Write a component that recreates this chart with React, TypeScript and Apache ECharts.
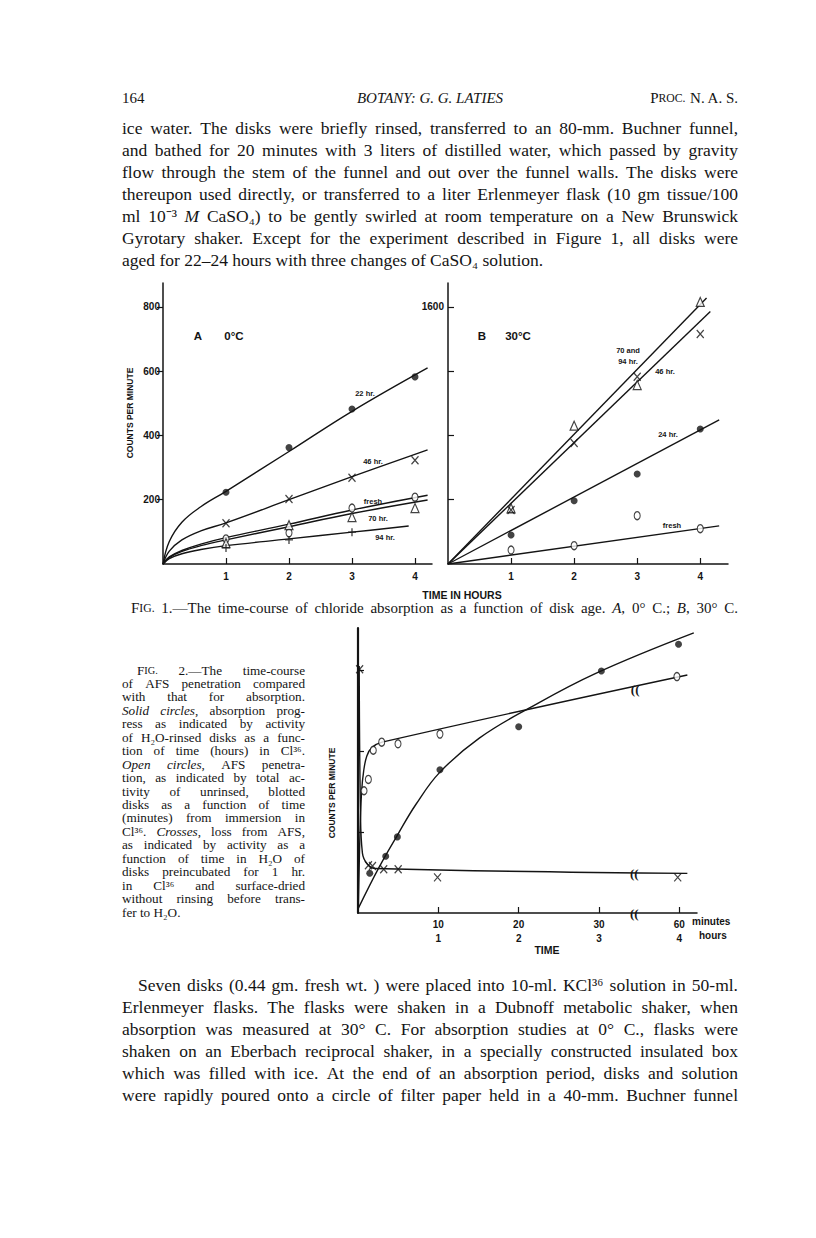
import React, { useEffect, useRef } from "react";
import * as echarts from "echarts";

// ---------------- Figure 1A (0 °C) : counts per minute vs time (hours) ----------------
const hoursA = [1, 2, 3, 4];
const a22Pts = [223, 362, 482, 582];
const a46Pts = [127, 202, 268, 323];
const aFreshPts = [78, 97, 174, 208];
const a70Pts = [65, 121, 146, 174];
const hoursA94 = [1, 2, 3];
const a94Pts = [50, 75, 99];
const a22CurveX = [0, 0.1, 0.3, 0.6, 1, 2, 3, 4.2];
const a22CurveY = [0, 70, 130, 178, 226, 350, 475, 610];
const a46CurveX = [0, 0.1, 0.3, 0.6, 1, 2, 3, 4.2];
const a46CurveY = [0, 40, 75, 103, 128, 200, 272, 355];
const aFreshCurveX = [0, 0.1, 0.3, 0.6, 1, 2, 3, 4.2];
const aFreshCurveY = [0, 22, 42, 62, 82, 124, 168, 214];
const a70CurveX = [0, 0.1, 0.3, 0.6, 1, 2, 3, 4.2];
const a70CurveY = [0, 20, 39, 57, 75, 116, 157, 199];
const a94CurveX = [0, 0.1, 0.3, 0.6, 1, 2, 3, 3.9];
const a94CurveY = [0, 17, 32, 45, 57, 78, 99, 118];
const aYTicks = [200, 400, 600, 800];
const aXTicks = [1, 2, 3, 4];

// ---------------- Figure 1B (30 °C) ----------------
const hoursB = [1, 2, 3, 4];
const b7094Pts = [347, 861, 1114, 1631];
const b46Pts = [336, 753, 1166, 1432];
const b24Pts = [180, 394, 560, 840];
const bFreshPts = [87, 114, 301, 220];
const b7094LineX = [0, 4.1];
const b7094LineY = [0, 1656];
const b46LineX = [0, 4.16];
const b46LineY = [0, 1571];
const b24LineX = [0, 4.3];
const b24LineY = [0, 897];
const bFreshLineX = [0, 4.3];
const bFreshLineY = [0, 237];
const bYTicks = [400, 800, 1200, 1600];
const bYLabels = [1600];
const bXTicks = [1, 2, 3, 4];

// ---------------- Figure 2 (time axis: 10 units = 10 min = 1 hr; 40 shown as 60 min / 4 hr) ----------------
const solidX = [1.46, 3.45, 4.9, 10.2, 20.0, 30.3, 39.9];
const solidY = [0.49, 0.7, 0.94, 1.77, 2.3, 2.99, 3.32];
const solidCurveX = [0.05, 2.6, 4.9, 7.2, 10.2, 15.1, 21.3, 29.6, 41.8];
const solidCurveY = [0.06, 0.56, 0.96, 1.34, 1.74, 2.16, 2.53, 2.96, 3.46];
const openX = [0.75, 1.29, 1.9, 2.95, 4.98, 10.2, 39.7];
const openY = [1.51, 1.65, 2.01, 2.11, 2.09, 2.21, 2.92];
const openCurveX = [0.05, 0.25, 0.45, 0.7, 1.1, 1.7, 3.0, 41];
const openCurveY = [0.1, 1.0, 1.5, 1.75, 1.94, 2.04, 2.11, 2.94];
const crossX = [0.2, 1.3, 1.8, 3.2, 5.0, 9.9, 39.8];
const crossY = [3.01, 0.59, 0.58, 0.54, 0.54, 0.44, 0.44];
const crossCurveX = [0.15, 0.3, 0.55, 1.2, 2.2, 41];
const crossCurveY = [3.05, 1.3, 0.74, 0.6, 0.55, 0.49];
const f2XTicks = [10, 20, 30, 40];
const f2XLabels = ["10\n1", "20\n2", "30\n3", "60\n4"];
const f2YTicks = [1, 2, 3];

// ---------------- Page text ----------------
const headerLeft = "164";
const headerCenter = "BOTANY: G. G. LATIES";
const para1 = [
  "ice water.  The disks were briefly rinsed, transferred to an 80-mm. Buchner funnel,",
  "and bathed for 20 minutes with 3 liters of distilled water, which passed by gravity",
  "flow through the stem of the funnel and out over the funnel walls.  The disks were",
  "thereupon used directly, or transferred to a liter Erlenmeyer flask (10 gm tissue/100",
  "ml 10⁻³ _M_ CaSO₄) to be gently swirled at room temperature on a New Brunswick",
  "Gyrotary shaker.  Except for the experiment described in Figure 1, all disks were",
  "aged for 22–24 hours with three changes of CaSO₄ solution.",
];
const fig1Caption =
  "F^IG.^ 1.—The time-course of chloride absorption as a function of disk age.  _A_, 0° C.; _B_, 30° C.";
const fig2Caption = [
  "F^IG.^ 2.—The time-course",
  "of AFS penetration compared",
  "with that for absorption.",
  "_Solid_ _circles_, absorption prog-",
  "ress as indicated by activity",
  "of H₂O-rinsed disks as a func-",
  "tion of time (hours) in Cl³⁶.",
  "_Open_ _circles_, AFS penetra-",
  "tion, as indicated by total ac-",
  "tivity of unrinsed, blotted",
  "disks as a function of time",
  "(minutes) from immersion in",
  "Cl³⁶.  _Crosses_, loss from AFS,",
  "as indicated by activity as a",
  "function of time in H₂O of",
  "disks preincubated for 1 hr.",
  "in Cl³⁶ and surface-dried",
  "without rinsing before trans-",
  "fer to H₂O.",
];
const para2 = [
  "Seven disks (0.44 gm. fresh wt. ) were placed into 10-ml. KCl³⁶ solution in 50-ml.",
  "Erlenmeyer flasks.  The flasks were shaken in a Dubnoff metabolic shaker, when",
  "absorption was measured at 30° C.  For absorption studies at 0° C., flasks were",
  "shaken on an Eberbach reciprocal shaker, in a specially constructed insulated box",
  "which was filled with ice.  At the end of an absorption period, disks and solution",
  "were rapidly poured onto a circle of filter paper held in a 40-mm. Buchner funnel",
];

const INK = "#141414";
const SERIF = '"Liberation Serif", "Times New Roman", serif';
const SANS = '"Liberation Sans", Arial, sans-serif';

// ---------- text helpers ----------
let mctx: CanvasRenderingContext2D | null = null;
function measure(text: string, size: number, italic: boolean, fam: string) {
  if (!mctx) mctx = document.createElement("canvas").getContext("2d");
  mctx!.font = `${italic ? "italic " : ""}${size}px ${fam}`;
  return mctx!.measureText(text).width;
}
type Seg = { t: string; k: "n" | "i" | "s" };
function parseWord(w: string): Seg[] {
  return w
    .split(/(_[^_]+_|\^[^^]+\^)/)
    .filter((p) => p.length)
    .map((p) =>
      p[0] === "_" && p.length > 2 && p.endsWith("_")
        ? { t: p.slice(1, -1), k: "i" as const }
        : p[0] === "^" && p.length > 2 && p.endsWith("^")
        ? { t: p.slice(1, -1), k: "s" as const }
        : { t: p, k: "n" as const }
    );
}
const segW = (s: Seg, size: number, fam: string) =>
  s.k === "s" ? measure(s.t, size * 0.78, false, fam) : measure(s.t, size, s.k === "i", fam);
const wordW = (w: Seg[], size: number, fam: string) => w.reduce((a, s) => a + segW(s, size, fam), 0);
const richOf = (w: Seg[]) => w.map((s) => (s.k === "n" ? s.t : `{${s.k}|${s.t}}`)).join("");
const richStyles = (size: number, fam: string) => ({
  i: { fontStyle: "italic", fontSize: size, fontFamily: fam, fill: INK },
  s: { fontSize: size * 0.78, fontFamily: fam, fill: INK },
});
function naturalWidth(line: string, size: number, fam: string) {
  const words = line.split(" ").filter(Boolean).map(parseWord);
  const sp = measure(" ", size, false, fam);
  return words.reduce((a, w) => a + wordW(w, size, fam), 0) + sp * (words.length - 1);
}
function textLine(out: any[], line: string, x0: number, x1: number, y: number, size: number, justify: boolean, fam: string) {
  const words = line.split(" ").filter(Boolean).map(parseWord);
  const widths = words.map((w) => wordW(w, size, fam));
  const total = widths.reduce((a, b) => a + b, 0);
  const sp = measure(" ", size, false, fam);
  const gap = justify && words.length > 1 ? (x1 - x0 - total) / (words.length - 1) : sp;
  let x = x0;
  words.forEach((w, i) => {
    out.push({
      type: "text",
      x,
      y,
      silent: true,
      style: {
        text: richOf(w),
        fontSize: size,
        fontFamily: fam,
        fill: INK,
        textAlign: "left",
        textVerticalAlign: "middle",
        rich: richStyles(size, fam),
      },
    });
    x += widths[i] + gap;
  });
}
function fitSize(lines: string[], width: number, base: number, lo: number, hi: number, fam: string) {
  const maxW = Math.max(...lines.map((l) => naturalWidth(l, base, fam)));
  return Math.max(lo, Math.min(hi, (base * width * 0.985) / maxW));
}

// ---------- chart helpers ----------
const pairs = (xs: number[], ys: number[]) => xs.map((x, i) => [x, ys[i]]);
const curve = (name: string, xs: number[], ys: number[], idx: number, smooth = true) => ({
  type: "line",
  name,
  xAxisIndex: idx,
  yAxisIndex: idx,
  data: pairs(xs, ys),
  smooth: smooth ? 0.4 : false,
  showSymbol: false,
  symbol: "none",
  lineStyle: { color: INK, width: 1.4 },
  silent: true,
  z: 2,
});
const FILLED = { symbol: "circle", symbolSize: 7, itemStyle: { color: INK } };
const OPEN = { symbol: "circle", symbolSize: [6, 8], itemStyle: { color: "#fff", borderColor: INK, borderWidth: 1.2 } };
const CROSS = {
  symbol: "path://M0,0L10,12M10,0L0,12",
  symbolSize: [7, 8],
  itemStyle: { color: "none", borderColor: INK, borderWidth: 1.3 },
};
const TRI = { symbol: "triangle", symbolSize: [8, 9], itemStyle: { color: "#fff", borderColor: INK, borderWidth: 1.2 } };
const PLUS = {
  symbol: "path://M5,0L5,10M0,5L10,5",
  symbolSize: 8,
  itemStyle: { color: "none", borderColor: INK, borderWidth: 1.3 },
};
const pts = (name: string, xs: number[], ys: number[], idx: number, sym: any) => ({
  type: "scatter",
  name,
  xAxisIndex: idx,
  yAxisIndex: idx,
  data: pairs(xs, ys),
  ...sym,
  silent: true,
  z: 3,
});

const labelStyle = { color: INK, fontFamily: SANS, fontWeight: "bold", fontSize: 10 };
const baseAxis = (grid: number, min: number, max: number, interval: number, ticks: number[], labels: number[] | null, inside: boolean, margin: number, lineW = 1.5) => ({
  type: "value",
  gridIndex: grid,
  min,
  max,
  interval,
  splitLine: { show: false },
  axisLine: { show: true, onZero: false, lineStyle: { color: INK, width: lineW } },
  axisTick: { show: true, inside, length: 6, customValues: ticks, lineStyle: { color: INK, width: 1.2 } },
  axisLabel: labels
    ? { ...labelStyle, margin, customValues: labels, formatter: (v: number) => String(v) }
    : { show: false },
});

function buildOption() {
  return {
    animation: false,
    backgroundColor: "#ffffff",
    grid: [
      { left: 163, top: 283, width: 269, height: 281 },
      { left: 448, top: 283, width: 280, height: 281 },
      { left: 358, top: 628, width: 339, height: 285 },
    ],
    xAxis: [
      baseAxis(0, 0, 4.27, 1, aXTicks, aXTicks, true, 7),
      baseAxis(1, 0, 4.44, 1, bXTicks, bXTicks, true, 7),
      {
        ...baseAxis(2, 0, 42.2, 10, f2XTicks, f2XTicks, true, 4),
        axisLabel: {
          ...labelStyle,
          margin: 4,
          lineHeight: 14,
          customValues: f2XTicks,
          formatter: (v: number) => f2XLabels[f2XTicks.indexOf(v)] ?? "",
        },
      },
    ],
    yAxis: [
      baseAxis(0, 0, 874, 200, aYTicks, aYTicks, false, 3),
      baseAxis(1, 0, 1749, 400, bYTicks, bYLabels, true, 4),
      baseAxis(2, 0, 3.52, 1, f2YTicks, null, true, 4, 2.2),
    ],
    series: [
      // Fig 1A
      curve("22 hr curve", a22CurveX, a22CurveY, 0),
      curve("46 hr curve", a46CurveX, a46CurveY, 0),
      curve("fresh curve", aFreshCurveX, aFreshCurveY, 0),
      curve("70 hr curve", a70CurveX, a70CurveY, 0),
      curve("94 hr curve", a94CurveX, a94CurveY, 0),
      pts("22 hr", hoursA, a22Pts, 0, FILLED),
      pts("46 hr", hoursA, a46Pts, 0, CROSS),
      pts("fresh", hoursA, aFreshPts, 0, OPEN),
      pts("70 hr", hoursA, a70Pts, 0, TRI),
      pts("94 hr", hoursA94, a94Pts, 0, PLUS),
      // Fig 1B
      curve("70 and 94 hr line", b7094LineX, b7094LineY, 1, false),
      curve("46 hr line", b46LineX, b46LineY, 1, false),
      curve("24 hr line", b24LineX, b24LineY, 1, false),
      curve("fresh line", bFreshLineX, bFreshLineY, 1, false),
      pts("70 and 94 hr", hoursB, b7094Pts, 1, TRI),
      pts("46 hr B", hoursB, b46Pts, 1, CROSS),
      pts("24 hr", hoursB, b24Pts, 1, FILLED),
      pts("fresh B", hoursB, bFreshPts, 1, OPEN),
      // Fig 2
      curve("absorption curve", solidCurveX, solidCurveY, 2),
      curve("AFS penetration curve", openCurveX, openCurveY, 2),
      curve("loss from AFS curve", crossCurveX, crossCurveY, 2),
      pts("absorption", solidX, solidY, 2, FILLED),
      pts("AFS penetration", openX, openY, 2, OPEN),
      pts("loss from AFS", crossX, crossY, 2, CROSS),
    ],
  };
}

function buildGraphics(chart: any) {
  const g: any[] = [];
  const L = 122;
  const R = 738;
  const lab = (x: number, y: number, text: string, size = 7.5, extra: any = {}) =>
    g.push({
      type: "text",
      x,
      y,
      silent: true,
      rotation: extra.rotation || 0,
      style: {
        text,
        fill: INK,
        fontFamily: SANS,
        fontWeight: "bold",
        fontSize: size,
        textAlign: extra.align || "center",
        textVerticalAlign: "middle",
      },
    });

  // header
  g.push({ type: "text", x: L, y: 98, silent: true, style: { text: headerLeft, fontSize: 15, fontFamily: SERIF, fill: INK, textVerticalAlign: "middle" } });
  g.push({
    type: "text",
    x: (L + R) / 2,
    y: 98,
    silent: true,
    style: { text: headerCenter, fontSize: 15, fontStyle: "italic", fontFamily: SERIF, fill: INK, textAlign: "center", textVerticalAlign: "middle" },
  });
  g.push({
    type: "text",
    x: R,
    y: 98,
    silent: true,
    style: {
      text: "P{s|ROC.} N. A. S.",
      fontSize: 15,
      fontFamily: SERIF,
      fill: INK,
      textAlign: "right",
      textVerticalAlign: "middle",
      rich: richStyles(15, SERIF),
    },
  });

  // body paragraphs
  const bodySize = fitSize([...para1.slice(0, -1), ...para2], R - L, 16, 13, 17.5, SERIF);
  para1.forEach((l, i) => textLine(g, l, L, R, 128 + 22 * i, bodySize, i < para1.length - 1, SERIF));
  para2.forEach((l, i) => textLine(g, l, i === 0 ? L + 16 : L, R, 985 + 22 * i, bodySize, true, SERIF));

  // Fig 1 caption
  const capSize = Math.min(bodySize * 0.86, fitSize([fig1Caption], R - (L + 9), 14, 11, 15, SERIF));
  textLine(g, fig1Caption, L + 9, R, 608, capSize, true, SERIF);

  // Fig 2 caption
  const c2L = 122;
  const c2R = 305;
  const c2Size = fitSize(fig2Caption.slice(0, -1), c2R - c2L, 13, 11, 13.2, SERIF);
  fig2Caption.forEach((l, i) =>
    textLine(g, l, i === 0 ? c2L + 15 : c2L, c2R, 670 + 13.45 * i, c2Size, i < fig2Caption.length - 1, SERIF)
  );

  // Fig 1 labels
  lab(130, 413, "COUNTS PER MINUTE", 8.5, { rotation: Math.PI / 2 });
  lab(462, 595, "TIME IN HOURS", 10.5);
  lab(198, 336, "A", 11.5);
  lab(234, 336, "0°C", 11.5);
  lab(482, 336, "B", 11.5);
  lab(518, 336, "30°C", 11.5);
  lab(365, 393, "22 hr.");
  lab(373, 461, "46 hr.");
  lab(373, 501, "fresh");
  lab(378, 518, "70 hr.");
  lab(385, 537, "94 hr.");
  lab(628, 350, "70 and");
  lab(628, 361, "94 hr.");
  lab(665, 371, "46 hr.");
  lab(668, 434, "24 hr.");
  lab(672, 525, "fresh");

  // Fig 2 labels
  lab(332, 793, "COUNTS PER MINUTE", 8.5, { rotation: Math.PI / 2 });
  lab(547, 950, "TIME", 10.5);
  lab(692, 921, "minutes", 10, { align: "left" });
  lab(699, 935, "hours", 10, { align: "left" });

  // axis-break marks in Fig 2
  const breaks = [
    [34.5, 2.76],
    [34.4, 0.49],
    [34.4, 0],
  ];
  breaks.forEach(([x, y]) => {
    const p = chart.convertToPixel({ gridIndex: 2 }, [x, y]);
    if (!p) return;
    g.push({
      type: "text",
      x: p[0],
      y: p[1],
      silent: true,
      z: 10,
      style: {
        text: "((",
        fontSize: 13,
        fontWeight: "bold",
        fontFamily: SERIF,
        fill: INK,
        textAlign: "center",
        textVerticalAlign: "middle",
      },
    });
  });
  return g;
}

export default function App() {
  const ref = useRef<HTMLDivElement>(null);
  useEffect(() => {
    document.body.style.margin = "0";
    const chart = echarts.init(ref.current!, null, { renderer: "svg", width: 816, height: 1238 });
    chart.setOption(buildOption() as any);
    chart.setOption({ graphic: { elements: buildGraphics(chart) } } as any);
    return () => chart.dispose();
  }, []);
  return <div ref={ref} style={{ width: 816, height: 1238, background: "#fff" }} />;
}
